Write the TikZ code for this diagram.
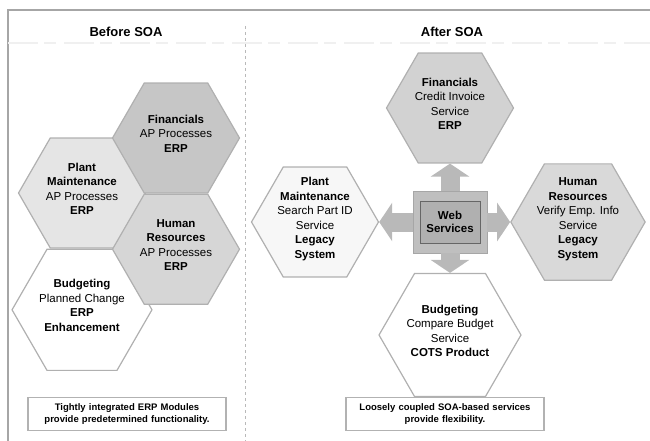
\documentclass[tikz,border=0pt]{standalone}
\usepackage{fontspec}
\setmainfont{Liberation Sans}
\usetikzlibrary{positioning,shapes.geometric,arrows.meta}
\tikzset{hex node/.style={regular polygon,regular polygon sides=6,minimum size=127pt,inner sep=0pt,draw=gray!62,line width=1.2pt,font=\fontsize{11.5}{14.5}\selectfont},
title node/.style={font=\fontsize{13}{15}\selectfont\bfseries},
note node/.style={draw=gray!60,line width=1.3pt,text width=194pt,align=center,minimum height=33pt,inner sep=2pt,font=\fontsize{9.5}{12}\selectfont\bfseries},
ws arrow/.style={color=gray!55,line width=19pt,-{Triangle[length=13pt,width=38pt]}},
}
\newcommand{\hexlines}[1]{\smash{\begin{tabular}{@{}c@{}}#1\end{tabular}}}

\begin{document}
\begin{tikzpicture}[x=1pt,y=-1pt]
		\useasboundingbox (0,0) rectangle (650,441);
		% frame and split
		\draw[gray!70,line width=1.5pt] (8,441) -- (8,10) -- (650,10);
		\draw[gray!12,line width=2.5pt,dash pattern=on 30pt off 6pt on 12pt off 8pt] (8,43) -- (650,43);
		\draw[gray!55,dashed] (245,26) -- (245,441);
		
		% before SOA
		\node[title node] (before) at (126,32) {Before SOA};
		\node[hex node,fill=gray!20] (plantL) at (82,193) {\hexlines{\textbf{Plant}\\\textbf{Maintenance}\\AP Processes\\\textbf{ERP}}};
		\node[hex node,fill=white] (budgL) [below=0pt of plantL] {\hexlines{\textbf{Budgeting}\\Planned Change\\\textbf{ERP}\\\textbf{Enhancement}}};
		\node[hex node,fill=gray!45] (finL) at (176,138) {\hexlines{\textbf{Financials}\\AP Processes\\\textbf{ERP}}};
		\node[hex node,fill=gray!32] (hrL) [below=0pt of finL] {\hexlines{\textbf{Human}\\\textbf{Resources}\\AP Processes\\\textbf{ERP}}};
		
		% after SOA
		\node[title node] (after) at (452,32) {After SOA};
		\node[draw=gray!70,fill=gray!50,line width=0.8pt,minimum width=74pt,minimum height=62pt] (wsbg) at (450,222) {};
		\node[draw=gray!80!black,fill=gray!62,line width=0.8pt,minimum width=60pt,minimum height=42pt,align=center,font=\fontsize{11.5}{13.5}\selectfont\bfseries] (ws) at (wsbg) {Web\\Services};
		\node[hex node,fill=gray!35] (finR) at (450,108) {\hexlines{\textbf{Financials}\\Credit Invoice\\Service\\\textbf{ERP}}};
		\node[hex node,fill=gray!6] (plantR) at (315,222) {\hexlines{\textbf{Plant}\\\textbf{Maintenance}\\Search Part ID\\Service\\\textbf{Legacy}\\\textbf{System}}};
		\node[hex node,fill=gray!30] (hrR) at (578,222) {\hexlines{\textbf{Human}\\\textbf{Resources}\\Verify Emp. Info\\Service\\\textbf{Legacy}\\\textbf{System}}};
		\node[hex node,fill=white] (budgR) at (450,335) {\hexlines{\textbf{Budgeting}\\Compare Budget\\Service\\\textbf{COTS Product}}};
		
		\path[ws arrow]
		(wsbg) edge (finR)
		(wsbg) edge (plantR)
		(wsbg) edge (hrR)
		(wsbg) edge (budgR);
		
		% notes
		\node[note node] (noteL) at (127,414) {Tightly integrated ERP Modules\\provide predetermined functionality.};
		\node[note node] (noteR) at (445,414) {Loosely coupled SOA-based services\\provide flexibility.};
		
	\end{tikzpicture}
\end{document}
